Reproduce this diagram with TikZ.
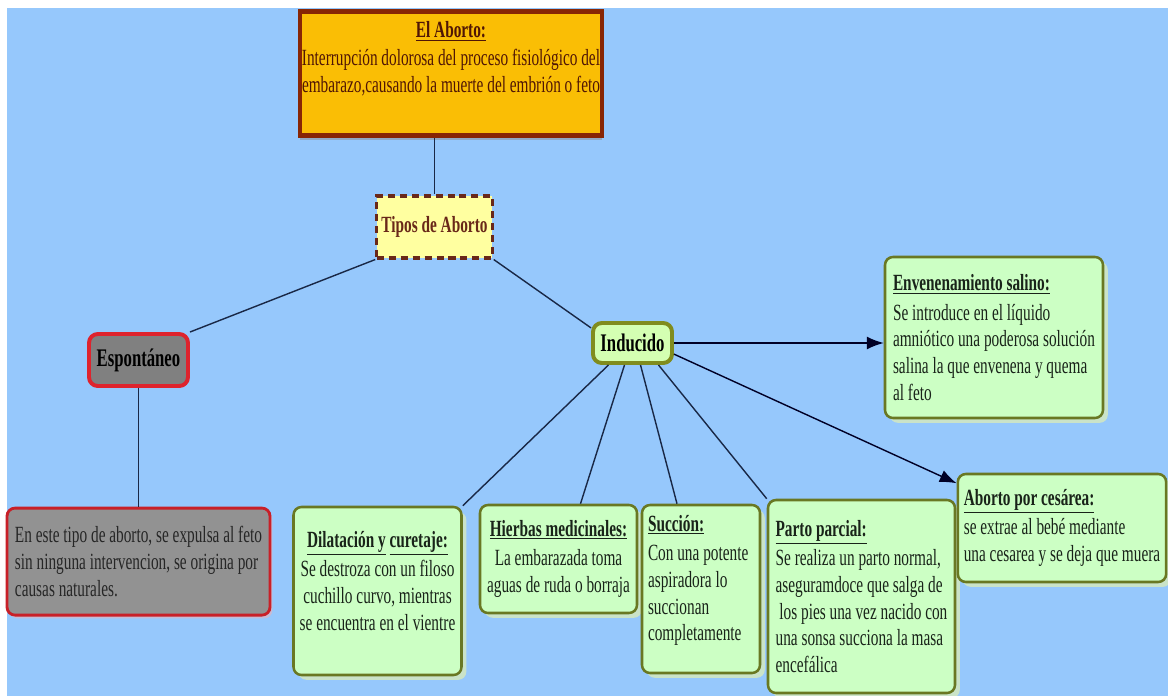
\documentclass[tikz,border=0pt]{standalone}
\usepackage{fontspec}
\setmainfont[FakeStretch=0.66]{Liberation Serif}
\usetikzlibrary{arrows.meta,shadows}

\definecolor{fondo}{RGB}{150,200,252}
\definecolor{naranja}{RGB}{250,190,5}
\definecolor{marron}{RGB}{135,38,5}
\definecolor{textomarron}{RGB}{80,22,5}
\definecolor{amarillo}{RGB}{255,255,160}
\definecolor{cafe}{RGB}{105,40,25}
\definecolor{gris}{RGB}{128,128,128}
\definecolor{grisclaro}{RGB}{146,146,146}
\definecolor{rojo}{RGB}{222,35,45}
\definecolor{rosa}{RGB}{245,175,175}
\definecolor{verdeclaro}{RGB}{204,255,196}
\definecolor{verdeind}{RGB}{212,255,178}
\definecolor{oliva}{RGB}{105,120,35}
\definecolor{sombra}{RGB}{255,255,150}
\definecolor{textoverde}{RGB}{25,35,25}
\definecolor{azuloscuro}{RGB}{25,40,70}

\tikzset{
  texto/.style={font=\fontsize{16.5}{19}\selectfont},
  grande/.style={font=\fontsize{18}{20}\selectfont},
  principal/.style={texto, draw=marron, fill=naranja, line width=3.5pt, text=textomarron,
    inner xsep=0cm, inner ysep=0.25cm, drop shadow={shadow xshift=0cm, shadow yshift=-0.1cm, fill=black!45}},
  tipo/.style={texto, draw=cafe, fill=amarillo, line width=2.2pt, dash pattern=on 5pt off 3.5pt,
    text=cafe, minimum width=2.875cm, minimum height=1.55cm},
  rama/.style={grande, line width=2.8pt, rounded corners=0.22cm},
  cajagris/.style={texto, draw=rojo!90!black, fill=grisclaro, line width=2pt, rounded corners=0.2cm,
    text=black!85, drop shadow={shadow xshift=0.06cm, shadow yshift=-0.08cm, fill=rosa}},
  caja/.style={texto, draw=oliva, fill=verdeclaro, line width=1.8pt, rounded corners=0.2cm,
    text=textoverde, inner sep=0.15cm,
    drop shadow={shadow xshift=0.12cm, shadow yshift=-0.12cm, fill=sombra}},
  linea/.style={draw=azuloscuro, line width=1pt},
  flecha/.style={linea, draw=black!85!blue, -{Latex[length=0.42cm, width=0.32cm]}},
}

\begin{document}
\begin{tikzpicture}
  \useasboundingbox (0,0) rectangle (29.2,-17.4);
  \fill[fondo] (0.175,-0.2) rectangle (29.2,-17.4);

  % tema central
  \node[principal] (aborto) at (11.275,-1.84) {\parbox[c][2.6cm][t]{7.55cm}{\centering
    \underline{\textbf{El Aborto:}}\\[1pt]
    Interrupción dolorosa del proceso fisiológico del\\
    embarazo,causando la muerte del embrión o feto}};
  \node[tipo] (tipos) at (10.8625,-5.675) {\textbf{Tipos de Aborto}};

  % espontaneo
  \node[rama, draw=rojo, fill=gris, minimum width=2.475cm, minimum height=1.3cm] (espontaneo) at (3.4625,-9.0) {\textbf{Espontáneo}};
  \node[cajagris, minimum width=6.575cm, minimum height=2.675cm, align=left] (natural) at (3.4625,-14.04)
    {En este tipo de aborto, se expulsa al feto\\ sin ninguna intervencion, se origina por\\ causas naturales.};

  % inducido
  \node[rama, draw=oliva!85!yellow, fill=verdeind, minimum width=1.975cm, minimum height=1cm] (inducido) at (15.8125,-8.575) {\textbf{Inducido}};
  \node[caja, minimum width=5.45cm, minimum height=4.025cm, align=left] (salino) at (24.85,-8.4375)
    {\underline{\textbf{Envenenamiento salino:}}\\[2pt] Se introduce en el líquido\\ amniótico una poderosa solución\\ salina la que envenena y quema\\ al feto};
  \node[caja, inner xsep=0.05cm, inner ysep=0.6cm] (dilatacion) at (9.4375,-14.775) {\parbox[c][3.0cm][t]{4.1cm}{\centering
    \underline{\textbf{Dilatación y}} \underline{\textbf{curetaje:}}\\[2pt] Se destroza con un filoso\\ cuchillo curvo, mientras\\ se encuentra en el vientre}};
  \node[caja, minimum width=3.925cm, minimum height=2.7cm, align=center] (hierbas) at (13.9625,-13.975)
    {\underline{\textbf{Hierbas medicinales:}}\\[2pt] La embarazada toma\\ aguas de ruda o borraja};
  \node[caja, inner xsep=0.15cm, inner ysep=0.25cm] (succion) at (17.525,-14.725) {\parbox[c][3.7cm][t]{2.65cm}{\raggedright
    \underline{\textbf{Succión:}}\\[2pt] Con una potente\\ aspiradora lo\\ succionan\\ completamente}};
  \node[caja, minimum width=4.675cm, minimum height=4.825cm, align=left] (parto) at (21.5375,-14.9125)
    {\underline{\textbf{Parto parcial:}}\\[2pt] Se realiza un parto normal,\\ aseguramdoce que salga de\\ \ los pies una vez nacido con\\ una sonsa succiona la masa\\ encefálica};
  \node[caja, minimum width=5.15cm, minimum height=2.7cm, align=left] (cesarea) at (26.55,-13.2)
    {\underline{\textbf{Aborto por cesárea:}}\\[2pt] se extrae al bebé mediante\\ una cesarea y se deja que muera};

  % conectores
  \draw[linea] (tipos.north |- aborto.south) -- (tipos.north);
  \draw[linea] (tipos.south west) -- (espontaneo.north east);
  \draw[linea] (espontaneo.south) -- (natural.north);
  \draw[linea] (tipos.south east) -- (inducido.160);
  \draw[linea] ([xshift=-0.6cm]inducido.south) -- (dilatacion.north east);
  \draw[linea] ([xshift=-0.2cm]inducido.south) -- ([xshift=0.55cm]hierbas.north);
  \draw[linea] ([xshift=0.2cm]inducido.south) -- ([xshift=-0.6cm]succion.north);
  \draw[linea] ([xshift=0.65cm]inducido.south) -- (parto.north west);
  \draw[flecha] (inducido.east) -- (inducido.east -| salino.west);
  \draw[flecha] (inducido.-15) -- (cesarea.157);
\end{tikzpicture}
\end{document}
